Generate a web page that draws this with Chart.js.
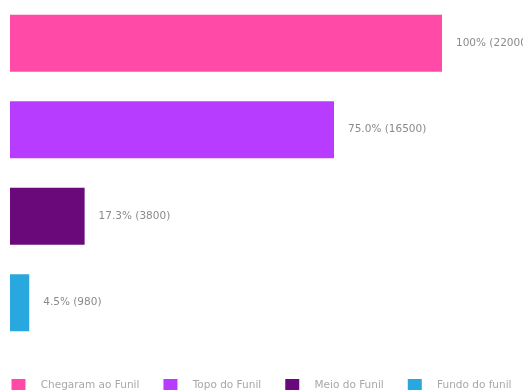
<!DOCTYPE html>
<html>
<head>
<meta charset="utf-8">
<script src="https://cdn.jsdelivr.net/npm/chart.js@4/dist/chart.umd.min.js"></script>
<style>
html,body{margin:0;padding:0;background:#fff;overflow:hidden;width:523px;height:390px;}
#wrap{position:absolute;left:0;top:0;width:523px;height:402px;}
</style>
</head>
<body>
<div id="wrap"><canvas id="c" width="523" height="402"></canvas></div>
<script>
const categories = ["Chegaram ao Funil", "Topo do Funil", "Meio do Funil", "Fundo do funil"];
const values = [22000, 16500, 3800, 980];
const pctLabels = ["100%", "75.0%", "17.3%", "4.5%"];
const colors = ["#FF4AA8", "#B83CFF", "#6A0A7A", "#29A8E0"];
const axisMax = 22000;

const FONT = "'DejaVu Sans', sans-serif";

const valueLabels = {
  id: 'valueLabels',
  afterDatasetsDraw(chart) {
    const ctx = chart.ctx;
    const meta = chart.getDatasetMeta(0);
    ctx.save();
    ctx.font = "10.5px " + FONT;
    ctx.fillStyle = "#8a8a8a";
    ctx.textBaseline = "middle";
    ctx.textAlign = "left";
    meta.data.forEach((bar, i) => {
      ctx.fillText(pctLabels[i] + " (" + values[i] + ")", bar.x + 14, bar.y);
    });
    ctx.restore();
  }
};

const hiddenAxis = (extra) => Object.assign({
  display: true,
  grid: { display: false, drawTicks: false },
  border: { display: false },
  ticks: { display: false }
}, extra);

new Chart(document.getElementById('c'), {
  type: 'bar',
  data: {
    labels: categories,
    datasets: [{
      data: values,
      backgroundColor: colors,
      borderWidth: 0,
      categoryPercentage: 0.8,
      barPercentage: 0.825
    }]
  },
  options: {
    indexAxis: 'y',
    responsive: false,
    animation: false,
    layout: { padding: 0 },
    scales: {
      x: hiddenAxis({ min: 0, max: axisMax, afterFit(s) { s.height = 29; } }),
      y: hiddenAxis({ afterFit(s) { s.width = 10; } }),
      yR: hiddenAxis({ type: 'linear', position: 'right', afterFit(s) { s.width = 81; } })
    },
    plugins: {
      tooltip: { enabled: false },
      legend: {
        position: 'bottom',
        labels: {
          boxWidth: 14,
          boxHeight: 13,
          padding: 4,
          color: "#a8a8a8",
          font: { family: FONT, size: 10.5 },
          generateLabels(chart) {
            return categories.map((c, i) => ({
              text: "   " + c + (i < categories.length - 1 ? "      " : ""),
              fillStyle: colors[i],
              strokeStyle: colors[i],
              fontColor: "#a8a8a8",
              lineWidth: 0,
              hidden: false,
              index: i
            }));
          }
        }
      }
    }
  },
  plugins: [valueLabels]
});
</script>
</body>
</html>
